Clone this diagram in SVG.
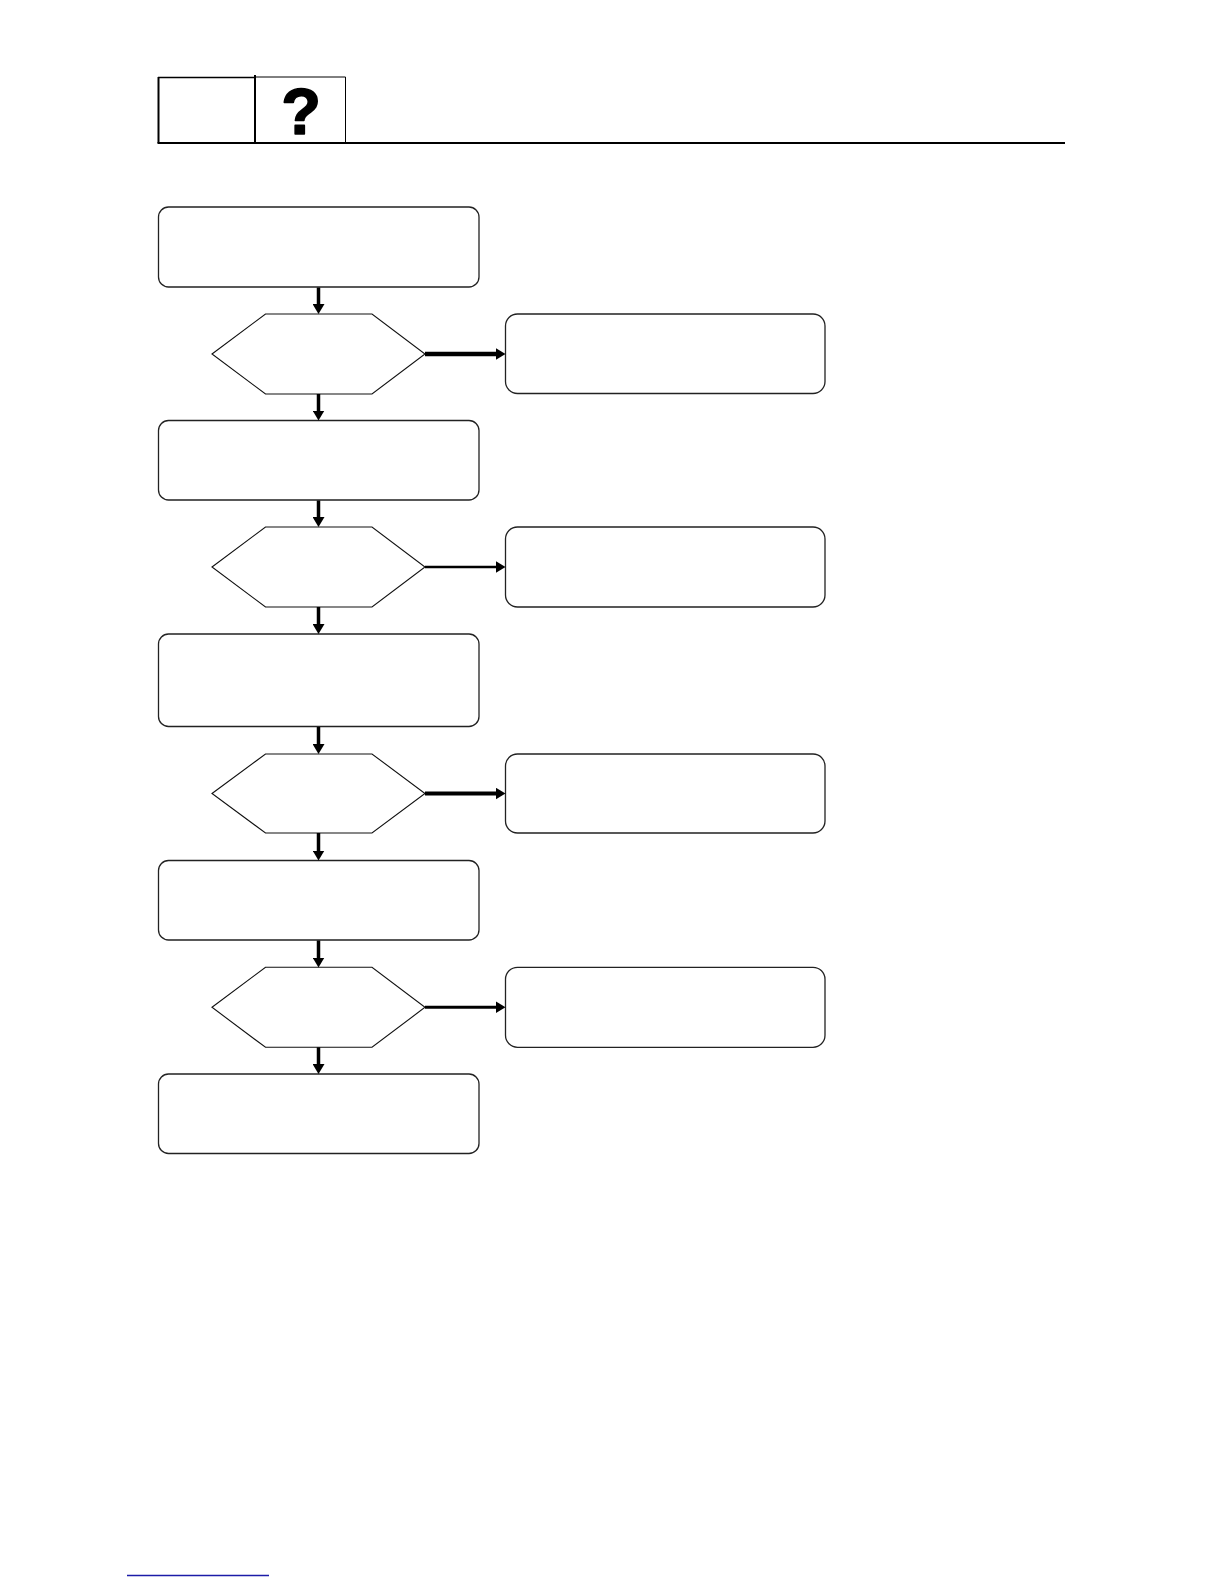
<svg xmlns="http://www.w3.org/2000/svg" width="1224" height="1584" viewBox="0 0 1224 1584">
  <style>
    .box { fill: #ffffff; stroke: #222222; stroke-width: 1.3; }
    .hex { fill: #ffffff; stroke: #111111; stroke-width: 1.1; }
    .conn { stroke: #000000; fill: none; }
    .head { fill: #000000; }
    .hdr { fill: none; stroke: #000000; }
  </style>
  <defs>
    <marker id="arrow" viewBox="0 0 10 12" refX="2" refY="6" markerWidth="10" markerHeight="12" markerUnits="userSpaceOnUse" orient="auto">
      <path d="M0,0 L10,6 L0,12 Z" class="head"/>
    </marker>
  </defs>
  <rect width="1224" height="1584" fill="#ffffff"/>

  <g id="header">
    <line class="hdr" x1="158.5" y1="77" x2="158.5" y2="143" stroke-width="2"/>
    <line class="hdr" x1="158" y1="77.5" x2="255" y2="77.5" stroke-width="1.5"/>
    <line class="hdr" x1="255" y1="75" x2="255" y2="143" stroke-width="2"/>
    <line class="hdr" x1="255" y1="77" x2="345.5" y2="77" stroke-width="1"/>
    <line class="hdr" x1="345.5" y1="77" x2="345.5" y2="143" stroke-width="1"/>
    <line class="hdr" x1="157.5" y1="143" x2="1065" y2="143" stroke-width="2.2"/>
    <text x="301" y="134" text-anchor="middle" font-family="Liberation Sans, Arial, sans-serif" font-weight="bold" font-size="65" stroke="#000000" stroke-width="1.6" stroke-linejoin="round">?</text>
  </g>

  <g id="node-box1"><rect class="box" x="158.5" y="207" width="320.5" height="80" rx="10"/></g>
  <g id="node-dec1"><polygon class="hex" points="212,354 265.5,314 372,314 425,354 372,394 265.5,394"/></g>
  <g id="node-side1"><rect class="box" x="505.5" y="314" width="319.5" height="79.5" rx="12"/></g>

  <g id="node-box2"><rect class="box" x="158.5" y="420.5" width="320.5" height="79.5" rx="10"/></g>
  <g id="node-dec2"><polygon class="hex" points="212,567 265.5,527 372,527 425,567 372,607 265.5,607"/></g>
  <g id="node-side2"><rect class="box" x="505.5" y="527" width="319.5" height="80" rx="12"/></g>

  <g id="node-box3"><rect class="box" x="158.5" y="634" width="320.5" height="92.5" rx="10"/></g>
  <g id="node-dec3"><polygon class="hex" points="212,793.5 265.5,754 372,754 425,793.5 372,833 265.5,833"/></g>
  <g id="node-side3"><rect class="box" x="505.5" y="754" width="319.5" height="79" rx="12"/></g>

  <g id="node-box4"><rect class="box" x="158.5" y="860.5" width="320.5" height="79.5" rx="10"/></g>
  <g id="node-dec4"><polygon class="hex" points="212,1007.3 265.5,967.3 372,967.3 425,1007.3 372,1047.3 265.5,1047.3"/></g>
  <g id="node-side4"><rect class="box" x="505.5" y="967.3" width="319.5" height="80" rx="12"/></g>

  <g id="node-box5"><rect class="box" x="158.5" y="1074" width="320.5" height="79.5" rx="10"/></g>

  <g id="connectors">
    <line class="conn" x1="318.5" y1="287.5" x2="318.5" y2="306" stroke-width="3.5" marker-end="url(#arrow)"/>
    <line class="conn" x1="318.5" y1="394" x2="318.5" y2="412.5" stroke-width="3.5" marker-end="url(#arrow)"/>
    <line class="conn" x1="318.5" y1="500.5" x2="318.5" y2="519" stroke-width="3.5" marker-end="url(#arrow)"/>
    <line class="conn" x1="318.5" y1="607" x2="318.5" y2="626" stroke-width="3.5" marker-end="url(#arrow)"/>
    <line class="conn" x1="318.5" y1="727" x2="318.5" y2="746" stroke-width="3.5" marker-end="url(#arrow)"/>
    <line class="conn" x1="318.5" y1="833" x2="318.5" y2="852.5" stroke-width="3.5" marker-end="url(#arrow)"/>
    <line class="conn" x1="318.5" y1="940.5" x2="318.5" y2="959.5" stroke-width="3.5" marker-end="url(#arrow)"/>
    <line class="conn" x1="318.5" y1="1047.3" x2="318.5" y2="1066" stroke-width="3.5" marker-end="url(#arrow)"/>

    <line class="conn" x1="425" y1="354" x2="497.5" y2="354" stroke-width="4.5" marker-end="url(#arrow)"/>
    <line class="conn" x1="425" y1="567" x2="497.5" y2="567" stroke-width="2.5" marker-end="url(#arrow)"/>
    <line class="conn" x1="425" y1="793.5" x2="497.5" y2="793.5" stroke-width="4" marker-end="url(#arrow)"/>
    <line class="conn" x1="425" y1="1007.3" x2="497.5" y2="1007.3" stroke-width="3" marker-end="url(#arrow)"/>
  </g>

  <line x1="127" y1="1575.5" x2="269" y2="1575.5" stroke="#1c1ca8" stroke-width="1.3"/>
</svg>
